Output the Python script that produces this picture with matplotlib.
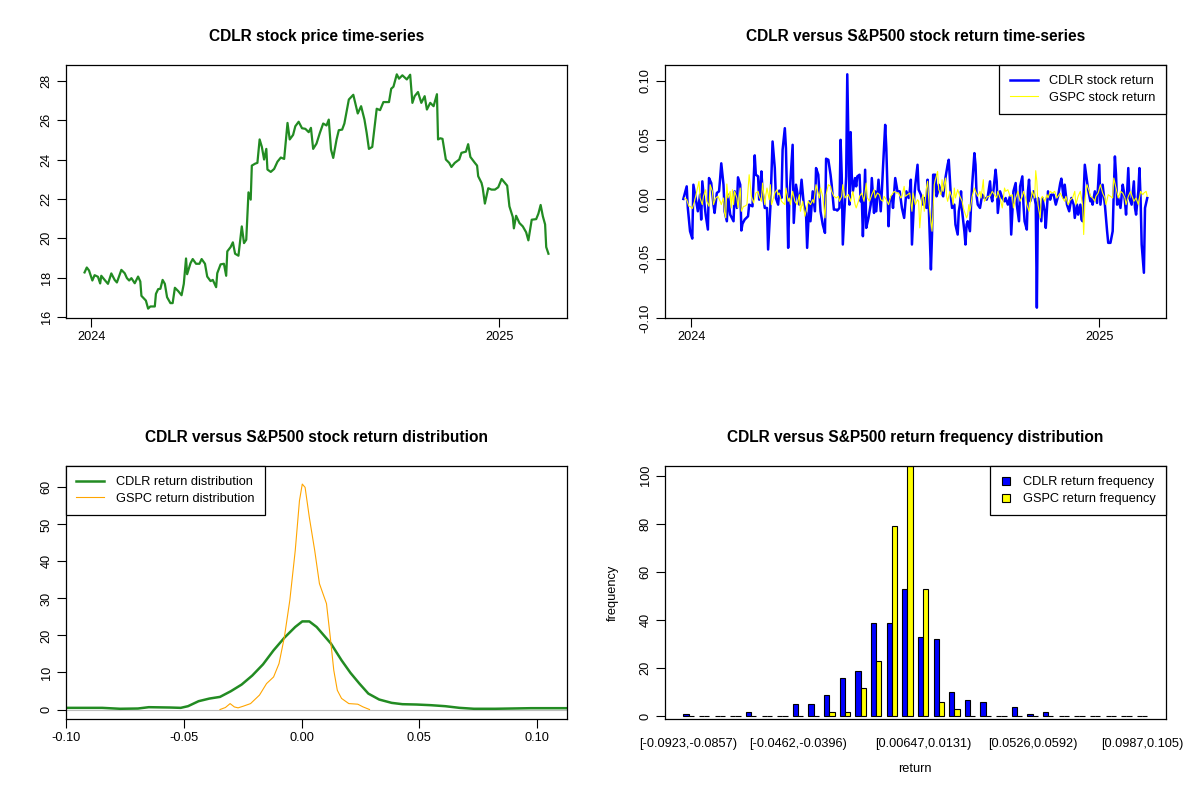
import matplotlib
matplotlib.use("Agg")
import matplotlib.pyplot as plt
import numpy as np
import pandas as pd
from matplotlib.lines import Line2D
from matplotlib.patches import Patch

plt.rcParams["font.family"] = ["Liberation Sans", "DejaVu Sans"]

START = pd.Timestamp("2024-01-01")

# CDLR closing price (days after 2024-01-01, price)
price_days = [-6, -4, -2, 1, 3, 6, 8, 9, 12, 15, 18, 21, 23, 27, 30, 32, 34, 36, 39, 42,
              44, 45, 49, 51, 53, 57, 58, 60, 62, 64, 66, 68, 71, 73, 75, 78, 81, 83, 85, 86,
              89, 91, 94, 97, 99, 102, 104, 107, 109, 112, 113, 116, 119, 121, 122, 125, 127, 129, 132, 135,
              137, 139, 141, 143, 144, 147, 149, 151, 153, 155, 157, 158, 161, 164, 167, 170, 173, 176, 178, 181,
              183, 186, 189, 192, 195, 197, 199, 202, 205, 208, 211, 213, 215, 217, 220, 222, 225, 227, 231, 235,
              239, 242, 245, 247, 249, 252, 256, 259, 262, 267, 269, 271, 274, 276, 279, 283, 286, 288, 290, 293,
              296, 299, 301, 304, 307, 310, 311, 313, 315, 318, 321, 323, 326, 330, 332, 336, 338, 340, 344, 346,
              347, 350, 351, 353, 356, 359, 362, 365, 368, 373, 375, 378, 379, 381, 384, 387, 390, 392, 395, 399,
              401, 403, 405, 407, 408, 410]
cdlr_price = [18.26, 18.51, 18.36, 17.85, 18.12, 18.04, 17.70, 18.09, 17.88, 17.68, 18.21, 17.88, 17.75, 18.39, 18.22, 17.97, 17.85, 17.97, 17.71, 18.05,
              17.80, 17.07, 16.83, 16.42, 16.53, 16.53, 17.17, 17.41, 17.43, 17.88, 17.68, 17.00, 16.70, 16.70, 17.48, 17.31, 17.10, 17.68, 18.97, 18.17,
              18.73, 18.94, 18.70, 18.70, 18.94, 18.70, 18.05, 17.82, 17.88, 17.51, 18.22, 18.67, 18.70, 18.09, 19.33, 19.55, 19.79, 19.21, 19.11, 20.60,
              19.75, 19.92, 22.33, 21.96, 23.69, 23.79, 23.83, 25.02, 24.64, 24.00, 24.54, 23.49, 23.37, 23.52, 23.89, 24.10, 24.03, 25.86, 25.02, 25.25,
              25.69, 25.92, 25.59, 25.56, 25.39, 25.61, 24.54, 24.81, 25.35, 25.83, 25.73, 26.03, 24.51, 24.08, 25.02, 25.49, 25.52, 25.83, 27.05, 27.29,
              26.34, 26.71, 26.03, 25.35, 24.54, 24.64, 26.58, 26.51, 26.92, 26.92, 27.60, 27.70, 28.33, 28.11, 28.28, 28.07, 28.31, 26.88, 27.22, 27.43,
              26.88, 27.22, 26.54, 26.88, 26.71, 27.32, 25.02, 25.08, 25.05, 24.00, 23.83, 23.62, 23.83, 24.00, 24.34, 24.40, 24.78, 24.13, 23.83, 23.69,
              23.15, 22.81, 22.57, 21.76, 22.54, 22.47, 22.47, 22.59, 23.01, 22.67, 21.62, 21.08, 20.50, 21.14, 20.77, 20.60, 20.30, 19.89, 20.94, 20.97,
              21.25, 21.69, 21.11, 20.70, 19.55, 19.21]

# CDLR daily return (days after 2024-01-01, return)
cdlr_ret_days = [-7, -4, -3, -1, 1, 2, 4, 6, 8, 9, 10, 12, 13, 15, 16, 18, 20, 21, 23, 25,
                 26, 27, 29, 30, 32, 33, 35, 38, 39, 41, 42, 44, 45, 46, 48, 51, 52, 55, 57, 58,
                 60, 61, 62, 63, 64, 66, 68, 69, 71, 73, 75, 76, 78, 79, 81, 82, 84, 85, 87, 88,
                 89, 91, 92, 94, 97, 99, 101, 103, 104, 106, 107, 109, 111, 112, 114, 116, 118, 120, 121, 123,
                 125, 126, 128, 130, 131, 133, 134, 135, 136, 138, 139, 140, 142, 143, 144, 145, 147, 148, 149, 151,
                 152, 153, 154, 156, 157, 159, 161, 162, 164, 165, 166, 168, 170, 171, 172, 174, 175, 177, 178, 180,
                 181, 183, 185, 187, 189, 191, 193, 195, 196, 197, 198, 200, 201, 203, 204, 206, 208, 209, 211, 212,
                 213, 215, 216, 217, 219, 220, 221, 222, 224, 226, 228, 230, 231, 233, 234, 236, 237, 239, 240, 241,
                 242, 243, 245, 246, 247, 248, 250, 251, 252, 254, 255, 256, 257, 259, 261, 263, 265, 266, 268, 269,
                 270, 271, 273, 274, 275, 277, 279, 281, 282, 284, 286, 287, 289, 291, 292, 294, 295, 297, 298, 299,
                 301, 302, 303, 304, 305, 307, 309, 310, 311, 312, 314, 315, 317, 318, 320, 322, 323, 325, 327, 329,
                 331, 332, 334, 335, 337, 339, 341, 343, 344, 346, 347, 349, 350, 351, 353, 355, 356, 358, 359, 360,
                 362, 364, 365, 366, 367, 369, 371, 373, 374, 376, 378, 379, 380, 381, 382, 383, 385, 387, 388, 389,
                 390, 392, 393, 395, 397, 398, 399, 401, 402, 403, 404, 406, 407, 409]
cdlr_ret = [0.0003, 0.0109, -0.0073, -0.0269, -0.0331, 0.0123, 0.0011, -0.0101, 0.0039, -0.0171, 0.0151, -0.0045, -0.0129, -0.0255, 0.0179, 0.0137, -0.0045, -0.0115, 0.0053, 0.0067,
            0.0179, 0.0303, 0.0123, -0.0101, -0.0185, 0.0039, -0.0129, -0.0185, 0.0067, -0.0073, 0.0185, 0.0123, -0.0263, -0.0207, -0.0171, -0.0143, -0.0045, -0.0059, 0.0370, 0.0207,
            0.0193, -0.0003, 0.0062, 0.0235, 0.0067, -0.0073, -0.0073, -0.0423, -0.0073, 0.0487, 0.0263, 0.0011, -0.0045, 0.0073, 0.0011, 0.0417, 0.0599, 0.0431, -0.0409, -0.0017,
            0.0151, 0.0459, -0.0199, 0.0123, -0.0045, 0.0165, -0.0045, -0.0115, -0.0409, -0.0017, -0.0185, 0.0067, -0.0101, 0.0263, 0.0207, -0.0101, -0.0213, -0.0283, 0.0342, 0.0333,
            0.0207, 0.0123, -0.0087, -0.0087, -0.0095, -0.0073, 0.0501, 0.0207, -0.0381, 0.0011, 0.0193, 0.1053, -0.0045, 0.0566, 0.0207, 0.0067, 0.0179, 0.0109, 0.0193, 0.0207,
            -0.0017, 0.0025, -0.0311, 0.0249, -0.0241, -0.0157, -0.0045, 0.0179, -0.0115, 0.0067, -0.0101, 0.0165, -0.0101, 0.0067, 0.0263, 0.0627, 0.0431, -0.0227, -0.0017, 0.0025,
            -0.0073, 0.0179, 0.0067, 0.0067, -0.0073, -0.0157, 0.0067, 0.0011, 0.0067, 0.0165, -0.0381, 0.0011, 0.0123, 0.0291, 0.0081, 0.0039, -0.0045, 0.0011, -0.0073, 0.0165,
            -0.0045, -0.0591, -0.0297, 0.0207, 0.0207, 0.0025, 0.0053, 0.0123, 0.0067, 0.0025, 0.0179, 0.0291, 0.0333, 0.0011, -0.0073, -0.0045, -0.0213, -0.0297, -0.0101, -0.0045,
            0.0067, -0.0101, -0.0269, -0.0381, -0.0213, -0.0185, -0.0269, -0.0045, 0.0123, 0.0389, 0.0291, 0.0025, -0.0045, -0.0073, 0.0039, 0.0011, -0.0003, 0.0025, 0.0151, 0.0025,
            -0.0017, 0.0067, 0.0249, 0.0151, -0.0115, 0.0067, 0.0011, -0.0017, 0.0011, -0.0045, 0.0025, -0.0297, 0.0067, 0.0137, -0.0045, -0.0185, 0.0109, 0.0193, -0.0045, -0.0185,
            -0.0255, 0.0067, 0.0165, -0.0017, 0.0011, 0.0067, -0.0045, -0.0913, 0.0011, -0.0045, -0.0185, 0.0011, -0.0101, -0.0241, 0.0067, -0.0003, 0.0039, 0.0039, -0.0045, 0.0025,
            0.0137, 0.0174, 0.0011, 0.0123, -0.0045, -0.0101, 0.0011, -0.0045, -0.0157, -0.0045, -0.0129, -0.0045, -0.0171, -0.0185, 0.0291, 0.0151, 0.0081, -0.0017, 0.0011, -0.0045,
            0.0067, -0.0031, 0.0123, 0.0291, -0.0045, 0.0123, -0.0045, -0.0269, -0.0367, -0.0367, -0.0269, 0.0067, 0.0361, 0.0207, -0.0045, 0.0011, -0.0073, 0.0123, 0.0067, -0.0017,
            -0.0129, 0.0263, 0.0011, -0.0045, 0.0151, -0.0073, -0.0129, 0.0067, 0.0263, 0.0011, -0.0381, -0.0619, -0.0073, 0.0011]

# S&P500 (GSPC) daily return (days after 2024-01-01, return)
gspc_ret_days = [-6, -4, -2, -1, 1, 3, 5, 6, 7, 8, 10, 11, 13, 14, 16, 17, 19, 20, 22, 24,
                 26, 27, 29, 30, 31, 32, 33, 35, 36, 37, 38, 39, 41, 42, 44, 45, 47, 48, 50, 52,
                 53, 54, 56, 57, 58, 60, 61, 63, 64, 66, 67, 68, 70, 71, 72, 73, 75, 77, 78, 79,
                 81, 84, 85, 87, 88, 89, 91, 93, 95, 97, 98, 100, 102, 103, 105, 107, 109, 110, 112, 113,
                 115, 116, 118, 120, 121, 123, 125, 126, 128, 130, 132, 133, 135, 136, 138, 139, 141, 143, 145, 147,
                 148, 150, 151, 153, 155, 157, 158, 160, 162, 164, 165, 167, 169, 170, 172, 173, 175, 177, 179, 180,
                 182, 184, 186, 188, 189, 191, 192, 194, 196, 198, 199, 201, 203, 204, 205, 207, 208, 209, 211, 212,
                 213, 214, 216, 218, 219, 221, 222, 224, 225, 226, 228, 229, 230, 232, 234, 235, 236, 237, 239, 241,
                 243, 244, 245, 247, 248, 249, 250, 252, 254, 255, 257, 259, 260, 262, 263, 265, 266, 268, 270, 272,
                 274, 275, 277, 279, 281, 282, 284, 286, 288, 289, 291, 293, 295, 297, 298, 300, 301, 303, 304, 306,
                 308, 309, 310, 311, 313, 314, 315, 317, 319, 320, 322, 324, 326, 328, 329, 331, 333, 335, 336, 338,
                 340, 342, 344, 345, 347, 349, 351, 352, 353, 354, 355, 357, 358, 360, 362, 363, 365, 367, 369, 371,
                 372, 374, 376, 378, 379, 381, 383, 385, 387, 389, 390, 392, 394, 395, 397, 399, 401, 403, 405, 406,
                 408, 409]
gspc_ret = [0.0011, -0.0003, -0.0059, -0.0059, -0.0078, -0.0017, 0.0067, 0.0109, 0.0151, 0.0011, -0.0045, 0.0025, 0.0081, -0.0017, -0.0059, 0.0123, 0.0067, -0.0045, 0.0011, 0.0025,
            -0.0017, -0.0045, 0.0011, -0.0115, -0.0157, 0.0129, 0.0011, 0.0067, -0.0073, 0.0081, -0.0045, 0.0067, 0.0011, -0.0073, 0.0095, -0.0101, -0.0059, -0.0059, -0.0045, 0.0207,
            0.0123, 0.0025, -0.0031, 0.0011, 0.0053, 0.0067, 0.0025, -0.0017, 0.0137, -0.0045, 0.0039, 0.0095, -0.0003, 0.0123, -0.0045, -0.0017, 0.0053, 0.0081, 0.0039, 0.0053,
            -0.0017, -0.0045, 0.0095, -0.0017, 0.0011, -0.0045, 0.0067, -0.0017, -0.0045, 0.0039, -0.0101, -0.0017, -0.0143, -0.0101, -0.0017, -0.0045, -0.0003, -0.0031, 0.0123, 0.0081,
            0.0011, 0.0095, 0.0025, -0.0157, 0.0039, 0.0123, 0.0109, 0.0067, 0.0025, 0.0011, 0.0025, -0.0017, 0.0025, 0.0123, 0.0011, 0.0025, 0.0039, -0.0017, 0.0067, -0.0045,
            -0.0073, -0.0017, 0.0025, 0.0053, -0.0017, 0.0137, 0.0011, -0.0017, 0.0039, 0.0081, 0.0011, 0.0053, 0.0039, -0.0003, -0.0017, 0.0025, -0.0003, -0.0045, 0.0025, 0.0039,
            0.0067, 0.0053, 0.0053, 0.0011, 0.0025, 0.0109, 0.0025, 0.0039, 0.0053, -0.0101, 0.0053, -0.0045, -0.0003, -0.0017, -0.0241, 0.0011, 0.0039, -0.0101, 0.0095, 0.0151,
            0.0011, -0.0101, -0.0269, 0.0123, 0.0165, 0.0235, 0.0081, 0.0039, 0.0165, 0.0067, 0.0179, 0.0025, -0.0017, 0.0067, 0.0011, -0.0045, 0.0095, 0.0011, 0.0081, 0.0025,
            -0.0017, -0.0073, -0.0101, -0.0157, -0.0129, -0.0045, -0.0101, 0.0025, 0.0095, 0.0067, 0.0025, 0.0067, 0.0011, 0.0165, -0.0017, 0.0011, 0.0025, 0.0025, 0.0067, 0.0039,
            0.0011, 0.0067, 0.0011, -0.0073, 0.0095, 0.0067, 0.0081, 0.0025, 0.0039, -0.0073, 0.0011, 0.0067, -0.0017, 0.0025, 0.0067, 0.0011, -0.0045, -0.0101, -0.0031, 0.0067,
            0.0011, 0.0241, 0.0151, -0.0045, -0.0157, 0.0011, 0.0025, -0.0017, 0.0039, 0.0011, 0.0067, 0.0053, 0.0067, 0.0011, 0.0025, 0.0053, 0.0011, -0.0017, 0.0025, -0.0045,
            -0.0003, 0.0011, 0.0067, -0.0045, 0.0025, 0.0067, -0.0045, -0.0297, -0.0045, 0.0081, 0.0123, 0.0067, 0.0025, 0.0011, -0.0017, 0.0025, 0.0053, 0.0123, 0.0053, 0.0011,
            -0.0045, 0.0039, 0.0025, 0.0011, 0.0179, 0.0095, 0.0011, 0.0067, 0.0053, 0.0011, -0.0045, 0.0025, 0.0067, 0.0039, -0.0017, 0.0011, -0.0045, 0.0067, 0.0039, 0.0053,
            0.0067, 0.0025]

# kernel density estimates of the two return series
dens_cdlr_x = [-0.1002, -0.0848, -0.0772, -0.0696, -0.065, -0.0559, -0.0514, -0.0483, -0.0438, -0.0392,
               -0.0347, -0.0301, -0.0255, -0.021, -0.0164, -0.0119, -0.0073, -0.0027, 0.0003, 0.0033,
               0.0064, 0.0125, 0.017, 0.0208, 0.0246, 0.0284, 0.033, 0.0383, 0.0429, 0.0489,
               0.055, 0.0611, 0.0672, 0.0733, 0.0824, 0.0976, 0.1131]
dens_cdlr_y = [0.45, 0.45, 0.2, 0.27, 0.63, 0.54, 0.45, 0.9, 2.25, 2.96,
               3.41, 4.94, 6.74, 9.16, 12.2, 16.0, 19.4, 22.3, 23.8, 23.8,
               22.3, 17.8, 13.3, 9.9, 7.0, 4.3, 2.7, 1.8, 1.44, 1.35,
               1.17, 0.9, 0.45, 0.2, 0.2, 0.36, 0.36]
dens_gspc_x = [-0.0347, -0.0324, -0.0304, -0.0286, -0.027, -0.0248, -0.0217, -0.0179, -0.0149, -0.0119,
               -0.0096, -0.0073, -0.005, -0.0027, -0.0009, 0.0003, 0.0015, 0.0033, 0.0056, 0.0076,
               0.0091, 0.0106, 0.0122, 0.0137, 0.0152, 0.017, 0.0201, 0.0239, 0.0261, 0.0289]
dens_gspc_y = [0.0, 0.54, 1.6, 0.7, 0.45, 0.9, 1.6, 3.9, 7.0, 8.8,
               12.4, 19.6, 29.5, 42.9, 56.4, 60.9, 60.0, 51.9, 42.9, 34.0,
               31.3, 28.6, 19.6, 10.6, 5.2, 3.0, 1.6, 1.44, 0.72, 0.0]

# return frequency in 30 equal-width bins
cdlr_freq = [1, 0, 0, 0, 2, 0, 0, 5, 5, 9, 16, 19, 39, 39, 53, 33, 32, 10, 7, 6,
             0, 4, 1, 2, 0, 0, 0, 0, 0, 0]
gspc_freq = [0, 0, 0, 0, 0, 0, 0, 0, 0, 2, 2, 12, 23, 79, 104, 53, 6, 3, 0, 0,
             0, 0, 0, 0, 0, 0, 0, 0, 0, 0]
bin_labels = {0: "[-0.0923,-0.0857)", 7: "[-0.0462,-0.0396)", 15: "[0.00647,0.0131)",
              22: "[0.0526,0.0592)", 29: "[0.0987,0.105)"}

GREEN = "#228B22"
FS = 9.2


def r_style(ax):
    for spine in ax.spines.values():
        spine.set_linewidth(0.9)
    ax.tick_params(direction="out", length=6.5, width=0.8, labelsize=FS, pad=3)
    for lab in ax.get_yticklabels():
        lab.set_rotation(90)
        lab.set_va("center")


def r_legend(ax, handles, labels, loc, handlelength=2.2, handletextpad=0.9):
    leg = ax.legend(handles, labels, loc=loc, fontsize=FS, frameon=True, fancybox=False,
                    edgecolor="black", framealpha=1, borderaxespad=0, borderpad=0.8,
                    labelspacing=0.35, handlelength=handlelength, handletextpad=handletextpad)
    leg.get_frame().set_linewidth(0.9)
    return leg


def to_dates(days):
    return START + pd.to_timedelta(days, unit="D")


fig = plt.figure(figsize=(12, 8), dpi=100)
left_x, right_x, width = 0.055, 0.554, 0.4175
top_y, bot_y, height = 0.6025, 0.1013, 0.3163
year_ticks = [pd.Timestamp("2024-01-01"), pd.Timestamp("2025-01-01")]

# price time-series
ax1 = fig.add_axes([left_x, top_y, width, height])
ax1.plot(to_dates(price_days), cdlr_price, color=GREEN, lw=1.6)
ax1.margins(0.04)
ax1.set_xticks(year_ticks)
ax1.set_xticklabels(["2024", "2025"])
ax1.set_yticks([16, 18, 20, 22, 24, 26, 28])
ax1.set_title("CDLR stock price time-series", fontsize=11.2, fontweight="bold", pad=17)
r_style(ax1)

# return time-series
ax2 = fig.add_axes([right_x, top_y, width, height])
ax2.plot(to_dates(cdlr_ret_days), cdlr_ret, color="blue", lw=1.8)
ax2.plot(to_dates(gspc_ret_days), gspc_ret, color="yellow", lw=0.8)
ax2.margins(0.04)
ax2.set_xticks(year_ticks)
ax2.set_xticklabels(["2024", "2025"])
ax2.set_yticks([-0.10, -0.05, 0.0, 0.05, 0.10])
ax2.set_yticklabels(["-0.10", "-0.05", "0.00", "0.05", "0.10"])
ax2.set_title("CDLR versus S&P500 stock return time-series", fontsize=11.2, fontweight="bold", pad=17)
r_style(ax2)
r_legend(ax2, [Line2D([], [], color="blue", lw=1.8), Line2D([], [], color="yellow", lw=0.8)],
         ["CDLR stock return", "GSPC stock return"], "upper right")

# density
ax3 = fig.add_axes([left_x, bot_y, width, height])
ax3.axhline(0, color="#BEBEBE", lw=0.8)
ax3.plot(dens_cdlr_x, dens_cdlr_y, color=GREEN, lw=1.8)
ax3.plot(dens_gspc_x, dens_gspc_y, color="orange", lw=0.8)
ax3.set_xlim(-0.1002, 0.1129)
ax3.set_ylim(-2.55, 65.8)
ax3.set_xticks([-0.10, -0.05, 0.0, 0.05, 0.10])
ax3.set_xticklabels(["-0.10", "-0.05", "0.00", "0.05", "0.10"])
ax3.set_yticks([0, 10, 20, 30, 40, 50, 60])
ax3.set_title("CDLR versus S&P500 stock return distribution", fontsize=11.2, fontweight="bold", pad=17)
r_style(ax3)
r_legend(ax3, [Line2D([], [], color=GREEN, lw=1.8), Line2D([], [], color="orange", lw=0.8)],
         ["CDLR return distribution", "GSPC return distribution"], "upper left")

# frequency bar chart
ax4 = fig.add_axes([right_x, bot_y, width, height])
groups = np.arange(len(cdlr_freq))
ax4.bar(1.5 + 3 * groups, cdlr_freq, width=1, color="blue", edgecolor="black", lw=0.8)
ax4.bar(2.5 + 3 * groups, gspc_freq, width=1, color="yellow", edgecolor="black", lw=0.8)
ax4.set_xlim(-2.56, 93.56)
ax4.set_ylim(-1.04, 104)
ax4.set_yticks([0, 20, 40, 60, 80, 100])
ax4.set_xticks([2 + 3 * g for g in bin_labels])
ax4.set_xticklabels(list(bin_labels.values()))
ax4.set_xlabel("return", fontsize=FS, labelpad=9)
ax4.set_ylabel("frequency", fontsize=FS, labelpad=15)
ax4.set_title("CDLR versus S&P500 return frequency distribution", fontsize=11.2, fontweight="bold", pad=17)
r_style(ax4)
ax4.tick_params(axis="x", length=0, pad=14)
leg4 = r_legend(ax4, [Patch(facecolor="blue", edgecolor="black", lw=0.8),
                      Patch(facecolor="yellow", edgecolor="black", lw=0.8)],
                ["CDLR return frequency", "GSPC return frequency"], "upper right",
                handlelength=1.0, handletextpad=0.8)
square = 5.8
for leg_handle in leg4.legend_handles:
    leg_handle.set_x(1.5)
    leg_handle.set_width(square)
    leg_handle.set_height(square)

fig.savefig("out.png", dpi=100)
